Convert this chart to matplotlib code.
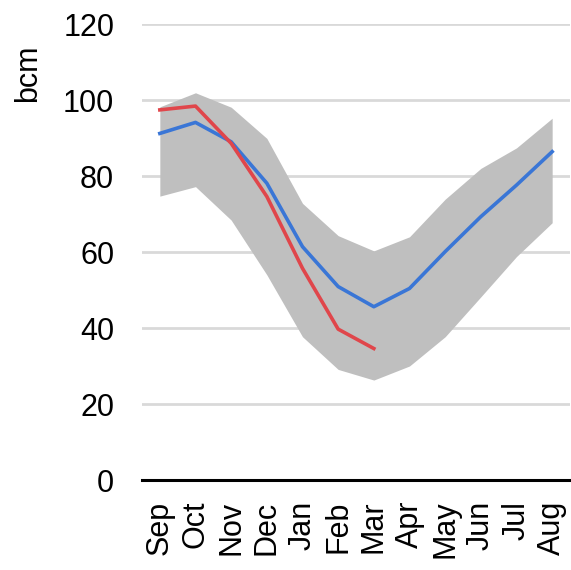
import numpy as np
import matplotlib
matplotlib.use("Agg")
import matplotlib.pyplot as plt

months = ["Sep", "Oct", "Nov", "Dec", "Jan", "Feb", "Mar",
          "Apr", "May", "Jun", "Jul", "Aug"]
range_high = [98.2, 101.9, 98.1, 89.9, 72.8, 64.3, 60.3, 64.0, 73.9, 82.0, 87.4, 95.2]
range_low = [74.7, 77.2, 68.4, 54.0, 37.7, 29.1, 26.3, 30.0, 37.7, 48.2, 58.8, 67.7]
average = [91.2, 94.1, 89.0, 78.1, 61.4, 50.9, 45.6, 50.4, 60.1, 69.3, 77.6, 86.4]
current = [97.4, 98.4, 88.6, 74.6, 55.7, 39.7, 34.6]

plt.rcParams["font.family"] = ["Liberation Sans", "DejaVu Sans"]

fig = plt.figure(figsize=(5.71, 5.70), dpi=100)
ax = fig.add_axes([142 / 571, 1 - 480 / 570, 428 / 571, 456 / 570])

x = np.arange(len(months))
ax.fill_between(x, range_low, range_high, color="#bfbfbf", linewidth=0, zorder=2)
ax.plot(x, average, color="#3a76d6", linewidth=2.6, zorder=3)
ax.plot(x[:len(current)], current, color="#e0464b", linewidth=2.6, zorder=4)

ax.set_xlim(-0.5, len(months) - 0.5)
ax.set_ylim(0, 120)
ax.set_yticks(range(0, 121, 20))
ax.set_xticks(x)
ax.set_xticklabels(months, rotation=90)
ax.tick_params(axis="both", length=0, labelsize=22)
ax.tick_params(axis="y", pad=20)
ax.tick_params(axis="x", pad=15)

ax.grid(axis="y", color="#d9d9d9", linewidth=2.0, zorder=1)
ax.set_axisbelow(True)
for side in ["top", "right", "left"]:
    ax.spines[side].set_visible(False)
ax.spines["bottom"].set_color("black")
ax.spines["bottom"].set_linewidth(2.2)
ax.spines["bottom"].set_zorder(5)

fig.text(28 / 571, 1 - 73 / 570, "bcm", rotation=90, fontsize=22,
         ha="center", va="center")

fig.savefig("out.png", dpi=100)
